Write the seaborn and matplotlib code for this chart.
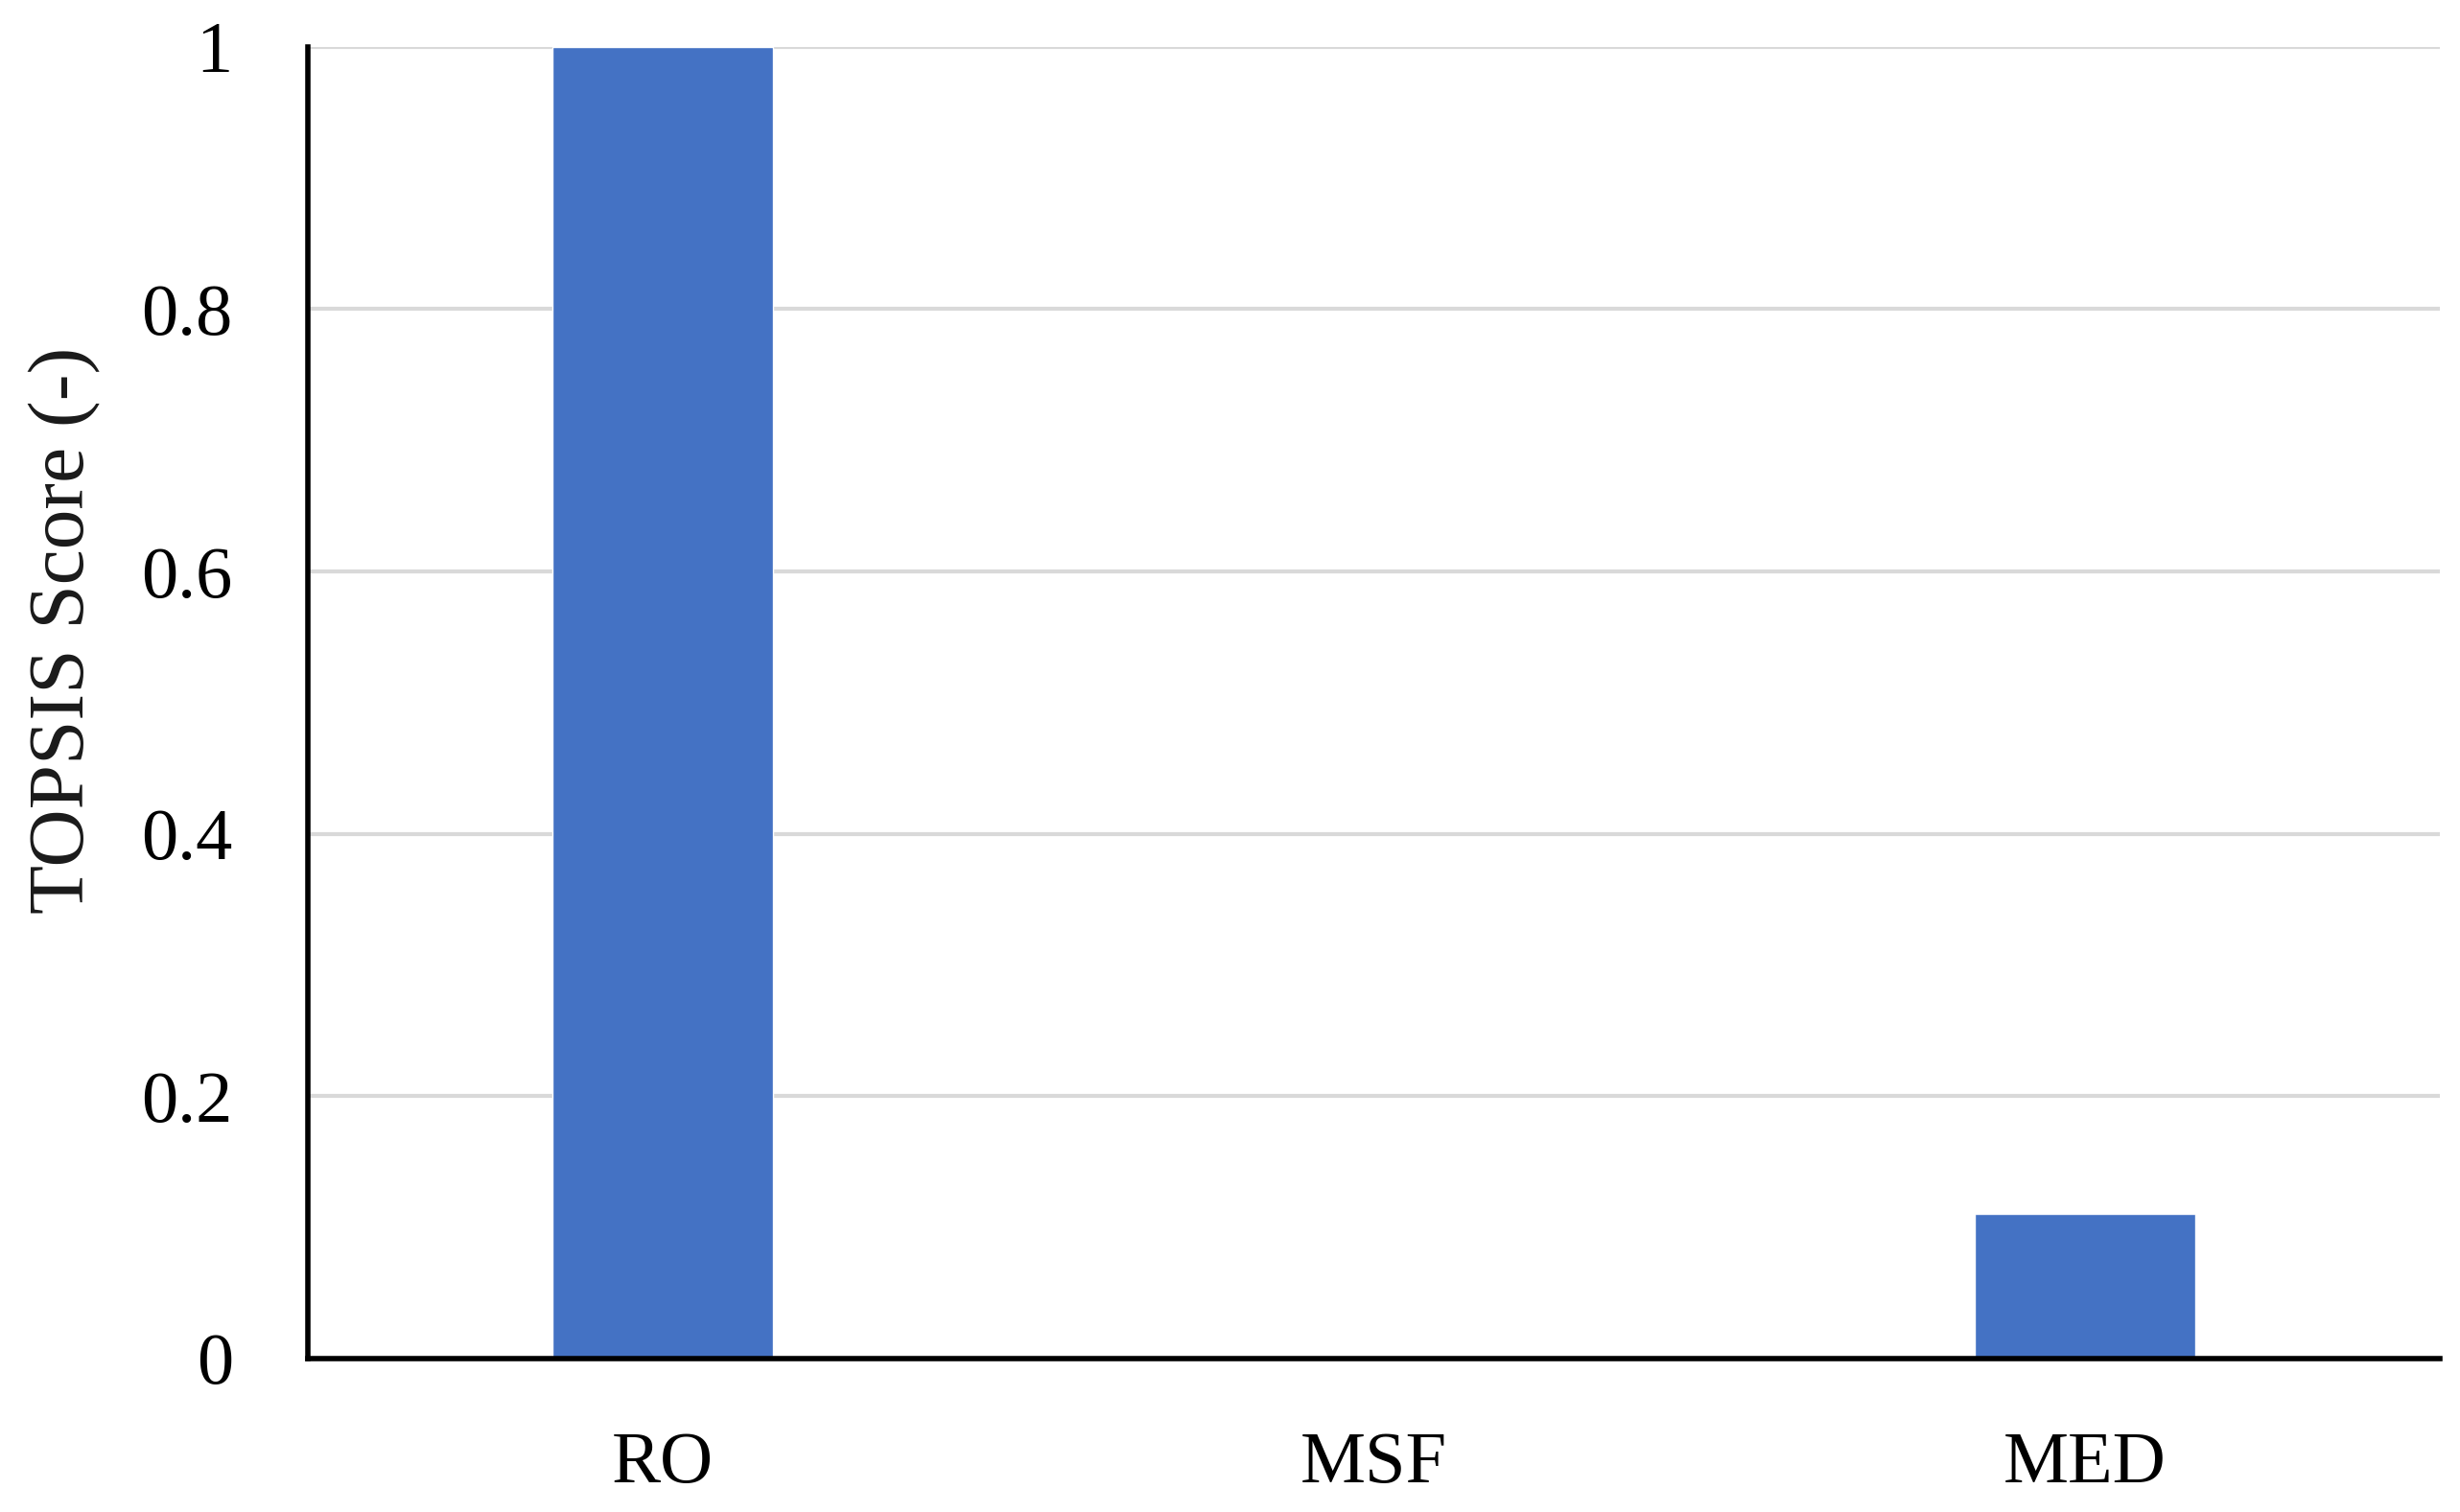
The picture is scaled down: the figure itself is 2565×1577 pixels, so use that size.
import numpy as np
import pandas as pd
import matplotlib
matplotlib.use("Agg")
import matplotlib.pyplot as plt
import seaborn as sns

# data
categories = ['RO', 'MSF', 'MED']
scores = [1.0, 0.0, 0.11]
yticks = [0, 0.2, 0.4, 0.6, 0.8, 1]
ytick_labels = ['0', '0.2', '0.4', '0.6', '0.8', '1']

df = pd.DataFrame({'Technology': categories, 'Score': scores})

sns.set_style('white')
plt.rcParams['font.family'] = ['Liberation Serif', 'DejaVu Serif']

fig, ax = plt.subplots(figsize=(25.65, 15.77), dpi=100)
fig.subplots_adjust(left=0.125, right=0.992, top=0.969, bottom=0.1015)

ax.yaxis.grid(True, color='#d9d9d9', linewidth=3)
ax.set_axisbelow(True)

sns.barplot(data=df, x='Technology', y='Score', color='#4472C4',
            saturation=1, width=0.31, ax=ax)

ax.set_xlim(-0.5, 2.5)
ax.set_ylim(0, 1)
ax.set_yticks(yticks)
ax.set_yticklabels(ytick_labels)
ax.set_xlabel('')
ax.set_ylabel('TOPSIS Score (-)', fontsize=60, color='#1a1a1a')
ax.yaxis.set_label_coords(-0.097, 0.555)
ax.tick_params(axis='both', length=0, labelsize=55, labelcolor='black')
ax.tick_params(axis='y', pad=56)
ax.tick_params(axis='x', pad=55)

sns.despine(ax=ax, top=True, right=True)
for side in ['left', 'bottom']:
    ax.spines[side].set_color('black')
    ax.spines[side].set_linewidth(4)

plt.savefig('out.png', dpi=100, facecolor='white')
